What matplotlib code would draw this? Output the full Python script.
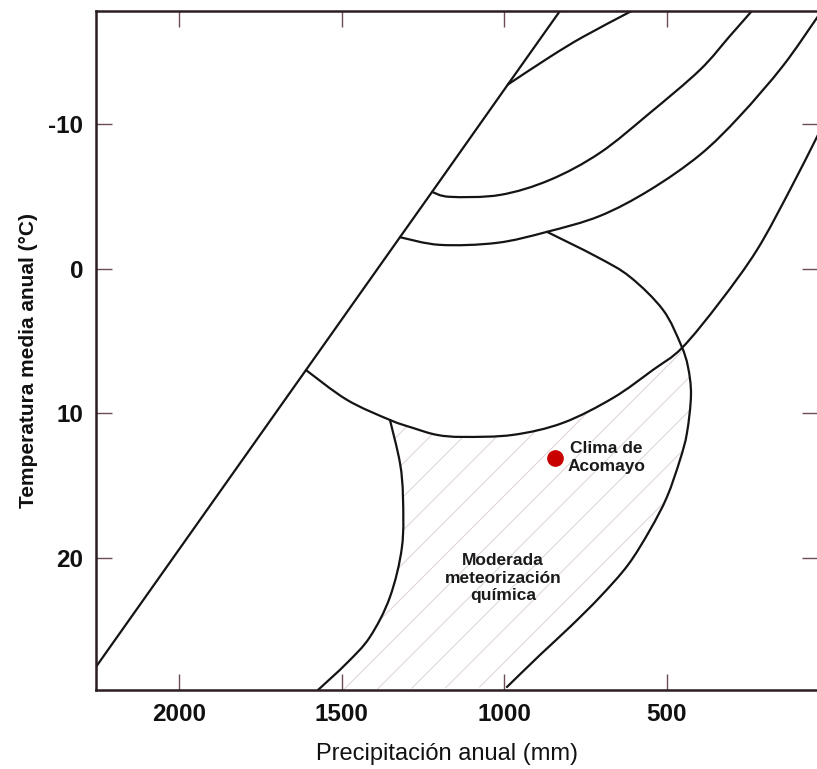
import numpy as np
import matplotlib
matplotlib.use("Agg")
import matplotlib.pyplot as plt
from matplotlib.patches import Polygon, PathPatch
from matplotlib.path import Path

plt.rcParams['font.family'] = ['Liberation Sans', 'DejaVu Sans']
plt.rcParams['hatch.linewidth'] = 0.7

# Boundary curves of the diagram: precipitation (mm) and temperature (°C)
a_mm = [2273.6, 1609.6, 1320.7, 1222, 989, 813.5]
a_t = [28.11, 7.01, -2.17, -5.30, -12.72, -18.29]

b_mm = [989, 859.6, 758.2, 613.7, 567.6]
b_t = [-12.72, -14.63, -16.01, -17.74, -18.29]

c_mm = [1222, 1167, 1013.3, 859.6, 705.9, 552.2, 398.6, 306.3, 238.7, 223.3]
c_t = [-5.30, -4.96, -5.09, -6.13, -8.00, -10.76, -13.73, -16.08, -17.81, -18.22]

d_mm = [1320.7, 1197.7, 1022.5, 868.8, 705.9, 552.2, 398.6, 275.6, 143.4, 38.9, 14.3]
d_t = [-2.17, -1.64, -1.78, -2.54, -3.64, -5.44, -7.86, -10.55, -14.01, -17.33, -18.09]

e_mm = [868.8, 715.2, 613.7, 512.3, 457, 435.4, 426.2, 438.5, 460, 500, 552.2,
        619.9, 705.9, 798.1, 890.4, 991.8]
e_t = [-2.54, -0.81, 0.57, 2.85, 5.27, 6.79, 8.73, 11.35, 13.22, 15.78, 18.06,
       20.48, 22.69, 24.76, 26.70, 28.91]

f_mm = [1609.6, 1483.6, 1351.4, 1280.7, 1207, 1127, 973.4, 819.7, 666, 543, 453.9,
        337.1, 223.3, 121.9, 38.9, -1]
f_t = [7.01, 9.07, 10.46, 11.01, 11.49, 11.63, 11.49, 10.66, 8.94, 7.00, 5.48,
       2.30, -1.29, -5.44, -9.10, -10.83]

g_mm = [1351.4, 1320.7, 1311.5, 1314.5, 1351.4, 1412.9, 1483.6, 1572.7]
g_t = [10.46, 13.43, 15.78, 19.23, 22.69, 25.45, 27.25, 29.12]

# Point: climate of Acomayo
punto_mm = 844
punto_t = 13.1

x_ticks = [2000, 1500, 1000, 500]
y_ticks = [-10, 0, 10, 20]


def smooth_path(xs, ys):
    # Catmull-Rom through the read points, drawn as cubic Bezier segments
    p = np.column_stack([xs, ys]).astype(float)
    n = len(p)
    verts = [p[0]]
    codes = [Path.MOVETO]
    for i in range(n - 1):
        p0 = p[max(i - 1, 0)]
        p1 = p[i]
        p2 = p[i + 1]
        p3 = p[min(i + 2, n - 1)]
        verts += [p1 + (p2 - p0) / 6, p2 - (p3 - p1) / 6, p2]
        codes += [Path.CURVE4] * 3
    return Path(verts, codes)


fig = plt.figure(figsize=(8.17, 7.69), dpi=100)
ax = fig.add_axes([0.1175, 0.1027, 0.8837, 0.883])

for xs, ys in [(a_mm, a_t), (b_mm, b_t), (c_mm, c_t), (d_mm, d_t),
               (e_mm, e_t), (f_mm, f_t), (g_mm, g_t)]:
    ax.add_patch(PathPatch(smooth_path(xs, ys), fill=False, edgecolor='#141414',
                           lw=1.6, capstyle='round', zorder=2))

# Hatched zone (moderate chemical weathering)
zona_x = np.concatenate([g_mm, e_mm[:3:-1], f_mm[10:1:-1]])
zona_y = np.concatenate([g_t, e_t[:3:-1], f_t[10:1:-1]])
ax.add_patch(Polygon(np.column_stack([zona_x, zona_y]), closed=True, fill=False,
                     hatch='/', edgecolor='#ddd0d7', linewidth=0, zorder=0))

ax.plot(punto_mm, punto_t, 'o', color='#c80000', ms=11, zorder=5)
ax.text(687, 13.08, 'Clima de\nAcomayo', ha='center', va='center',
        fontsize=12.5, fontweight='bold', color='#1a1a1a', linespacing=1.25)
ax.text(1004, 21.38, 'Moderada\nmeteorización\nquímica', ha='center', va='center',
        fontsize=12.5, fontweight='bold', color='#1a1a1a', linespacing=1.2)

ax.set_xlim(2255, 35.8)
ax.set_ylim(29.12, -17.80)

ax.set_xticks(x_ticks)
ax.set_yticks(y_ticks)
ax.set_xticklabels([str(v) for v in x_ticks], fontsize=17.5, fontweight='bold')
ax.set_yticklabels([str(v) for v in y_ticks], fontsize=17.5, fontweight='bold')
ax.tick_params(axis='both', direction='in', length=11.5, width=1, color='#6b4c57',
               top=True, right=True, pad=9, labelcolor='#111111')

for side in ['left', 'bottom', 'top']:
    ax.spines[side].set_linewidth(1.8)
    ax.spines[side].set_color('#2b1d22')
ax.spines['right'].set_visible(False)

ax.set_xlabel('Precipitación anual (mm)', fontsize=17, color='#111111')
ax.xaxis.set_label_coords(0.486, -0.078)
ax.set_ylabel('Temperatura media anual (°C)', fontsize=15, fontweight='bold',
              color='#111111')
ax.yaxis.set_label_coords(-0.080, 0.486)

fig.savefig('out.png', dpi=100)
